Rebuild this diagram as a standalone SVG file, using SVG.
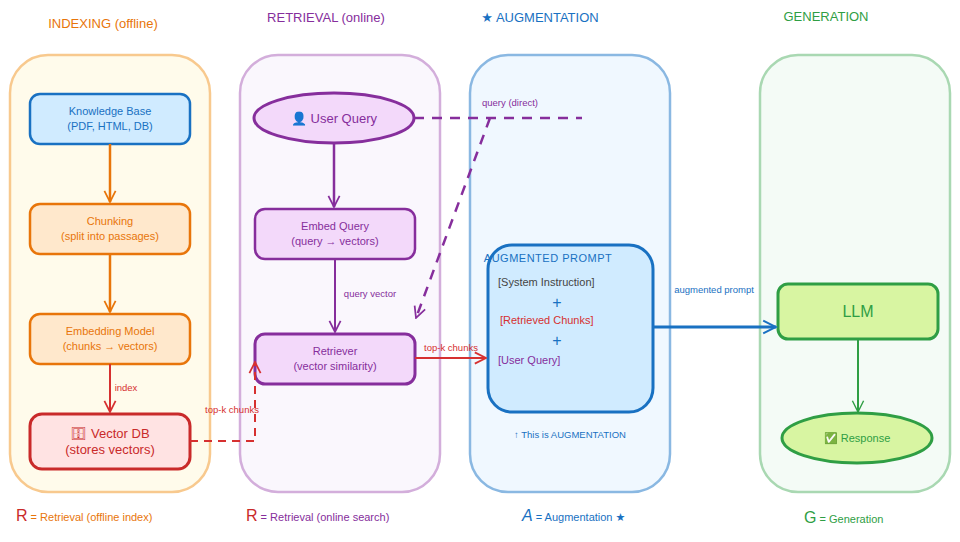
<svg xmlns="http://www.w3.org/2000/svg" width="960" height="542" viewBox="0 0 960 542">
<defs>
<style>
text{font-family:"Liberation Sans","DejaVu Sans",sans-serif;text-anchor:middle}
.t{font-size:13px}.s{font-size:11px}.xs{font-size:9.5px}
.lane{stroke-width:2.5}
.node{stroke-width:2.5}
</style>
<marker id="ao" viewBox="0 0 20 20" refX="18" refY="10" markerWidth="14" markerHeight="14" orient="auto" markerUnits="userSpaceOnUse"><path d="M2,2 L18,10 L2,18" fill="none" stroke="#e8750a" stroke-width="2.5"/></marker>
<marker id="ap" viewBox="0 0 20 20" refX="18" refY="10" markerWidth="14" markerHeight="14" orient="auto" markerUnits="userSpaceOnUse"><path d="M2,2 L18,10 L2,18" fill="none" stroke="#862e9c" stroke-width="2.5"/></marker>
<marker id="ar" viewBox="0 0 20 20" refX="18" refY="10" markerWidth="14" markerHeight="14" orient="auto" markerUnits="userSpaceOnUse"><path d="M2,2 L18,10 L2,18" fill="none" stroke="#d63030" stroke-width="2.5"/></marker>
<marker id="ab" viewBox="0 0 20 20" refX="18" refY="10" markerWidth="16" markerHeight="16" orient="auto" markerUnits="userSpaceOnUse"><path d="M2,2 L18,10 L2,18" fill="none" stroke="#1971c2" stroke-width="2.5"/></marker>
<marker id="ag" viewBox="0 0 20 20" refX="18" refY="10" markerWidth="14" markerHeight="14" orient="auto" markerUnits="userSpaceOnUse"><path d="M2,2 L18,10 L2,18" fill="none" stroke="#2f9e44" stroke-width="2"/></marker>
</defs>
<rect width="960" height="542" fill="#fff"/>

<g id="lanes">
<rect class="lane" x="10" y="55" width="200" height="437" rx="38" fill="#fffbeb" stroke="#f8c98e"/>
<rect class="lane" x="240" y="55" width="200" height="437" rx="38" fill="#faf7fd" stroke="#d3aedb"/>
<rect class="lane" x="470" y="55" width="200" height="437" rx="38" fill="#f0f8ff" stroke="#8ab8e2"/>
<rect class="lane" x="760" y="55" width="190" height="437" rx="38" fill="#f4fbf6" stroke="#a9d8b2"/>
</g>
<g id="titles">
<text class="t" x="103" y="28" fill="#e8750a">INDEXING (offline)</text>
<text class="t" x="326" y="22" fill="#862e9c">RETRIEVAL (online)</text>
<text class="t" x="540" y="22" fill="#1971c2">★ AUGMENTATION</text>
<text class="t" x="826" y="21" fill="#2f9e44">GENERATION</text>
</g>

<g id="kb"><rect class="node" x="30" y="94" width="160" height="50" rx="10" fill="#d0ebff" stroke="#1971c2"/>
<text class="s" x="110" y="115" fill="#1971c2">Knowledge Base</text><text class="s" x="110" y="130" fill="#1971c2">(PDF, HTML, DB)</text></g>
<g id="chunking"><rect class="node" x="30" y="204" width="160" height="50" rx="10" fill="#ffe8cc" stroke="#e8750a"/>
<text class="s" x="110" y="225" fill="#e8750a">Chunking</text><text class="s" x="110" y="240" fill="#e8750a">(split into passages)</text></g>
<g id="embedmodel"><rect class="node" x="30" y="314" width="160" height="50" rx="10" fill="#ffe8cc" stroke="#e8750a"/>
<text class="s" x="110" y="335" fill="#e8750a">Embedding Model</text><text class="s" x="110" y="350" fill="#e8750a">(chunks → vectors)</text></g>
<g id="vectordb"><rect x="30" y="414" width="160" height="55" rx="12" fill="#ffe3e3" stroke="#c92a2a" stroke-width="3"/>
<text class="t" x="110" y="438" fill="#c92a2a">🗄 Vector DB</text><text class="t" x="110" y="454" fill="#c92a2a">(stores vectors)</text></g>

<g id="userquery"><ellipse cx="334" cy="118" rx="80" ry="25" fill="#f3d9fa" stroke="#862e9c" stroke-width="3"/>
<text class="t" x="334" y="123" fill="#862e9c">👤 User Query</text></g>
<g id="embedquery"><rect class="node" x="255" y="209" width="160" height="50" rx="10" fill="#f3d9fa" stroke="#862e9c"/>
<text class="s" x="335" y="230" fill="#862e9c">Embed Query</text><text class="s" x="335" y="245" fill="#862e9c">(query → vectors)</text></g>
<g id="retriever"><rect x="255" y="334" width="160" height="50" rx="10" fill="#f3d9fa" stroke="#862e9c" stroke-width="3"/>
<text class="s" x="335" y="355" fill="#862e9c">Retriever</text><text class="s" x="335" y="370" fill="#862e9c">(vector similarity)</text></g>

<g id="augprompt"><rect x="488" y="245" width="165" height="167" rx="24" fill="#d0ebff" stroke="#1971c2" stroke-width="3"/>
<text class="s" x="548" y="262" fill="#1971c2" style="letter-spacing:0.5px">AUGMENTED PROMPT</text>
<text class="s" x="498" y="286" fill="#444" style="text-anchor:start">[System Instruction]</text>
<text x="557" y="308" fill="#1971c2" font-size="16">+</text>
<text class="s" x="500" y="324" fill="#d63030" style="text-anchor:start">[Retrieved Chunks]</text>
<text x="557" y="346" fill="#1971c2" font-size="16">+</text>
<text class="s" x="498" y="364" fill="#862e9c" style="text-anchor:start">[User Query]</text></g>
<text class="xs" x="570" y="438" fill="#1971c2">↑ This is AUGMENTATION</text>

<g id="llm"><rect x="778" y="284" width="160" height="55" rx="10" fill="#d8f5a2" stroke="#2f9e44" stroke-width="3"/>
<text x="858" y="317" fill="#2f9e44" font-size="16">LLM</text></g>
<g id="response"><ellipse cx="857" cy="438" rx="75" ry="25" fill="#d8f5a2" stroke="#2f9e44" stroke-width="3"/>
<text class="s" x="857" y="442" fill="#2f9e44">✅ Response</text></g>

<g id="connectors" fill="none">
<path d="M110,144 V202" stroke="#e8750a" stroke-width="2.5" marker-end="url(#ao)"/>
<path d="M110,254 V312" stroke="#e8750a" stroke-width="2.5" marker-end="url(#ao)"/>
<path d="M110,364 V412" stroke="#d63030" stroke-width="2" marker-end="url(#ar)"/>
<path d="M334,143 V207" stroke="#862e9c" stroke-width="2.5" marker-end="url(#ap)"/>
<path d="M335,259 V332" stroke="#862e9c" stroke-width="2" marker-end="url(#ap)"/>
<path d="M414,118 H582 M490,118 L416,318" stroke="#862e9c" stroke-width="2.5" stroke-dasharray="10,8" marker-end="url(#ap)"/>
<path d="M190,441 H255 V362" stroke="#d63030" stroke-width="2" stroke-dasharray="8,6" marker-end="url(#ar)"/>
<path d="M415,358 H486" stroke="#d63030" stroke-width="2" marker-end="url(#ar)"/>
<path d="M653,327 H776" stroke="#1971c2" stroke-width="3" marker-end="url(#ab)"/>
<path d="M858,339 V412" stroke="#2f9e44" stroke-width="2" marker-end="url(#ag)"/>
</g>
<g id="labels">
<text class="xs" x="126" y="391" fill="#d63030">index</text>
<text class="xs" x="370" y="297" fill="#862e9c">query vector</text>
<text class="xs" x="510" y="106" fill="#862e9c">query (direct)</text>
<text class="xs" x="232" y="413" fill="#d63030">top-k chunks</text>
<text class="xs" x="451" y="351" fill="#d63030">top-k chunks</text>
<text class="xs" x="714" y="293" fill="#1971c2">augmented prompt</text>
</g>
<g id="legend">
<text class="s" x="16" y="521" fill="#e8750a" style="text-anchor:start"><tspan fill="#c92a2a" font-size="16">R</tspan> = Retrieval (offline index)</text>
<text class="s" x="246" y="521" fill="#862e9c" style="text-anchor:start"><tspan fill="#c92a2a" font-size="16">R</tspan> = Retrieval (online search)</text>
<text class="s" x="522" y="521" fill="#1971c2" style="text-anchor:start"><tspan font-size="16" font-style="italic">A</tspan> = Augmentation ★</text>
<text class="s" x="804" y="523" fill="#2f9e44" style="text-anchor:start"><tspan font-size="16">G</tspan>  = Generation</text>
</g>
</svg>
